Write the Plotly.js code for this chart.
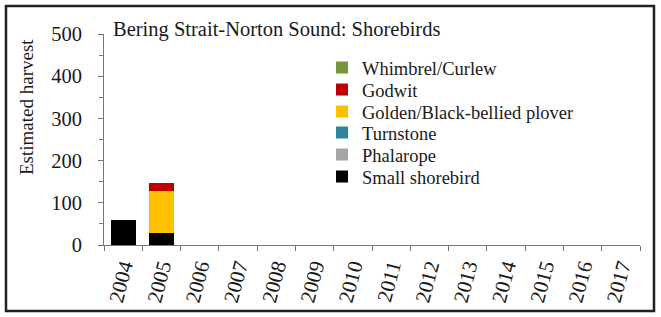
<!DOCTYPE html>
<html><head><meta charset="utf-8">
<script src="https://cdn.plot.ly/plotly-3.0.1.min.js"></script>
<style>body{margin:0;padding:0;background:#fff}#chart{width:661px;height:317px}</style>
</head><body><div id="chart"></div>
<script>
const years = ['2004','2005','2006','2007','2008','2009','2010','2011','2012','2013','2014','2015','2016','2017'];
const smallShorebird = [60, 28, 0,0,0,0,0,0,0,0,0,0,0,0];
const phalarope      = [0, 0, 0,0,0,0,0,0,0,0,0,0,0,0];
const turnstone      = [0, 0, 0,0,0,0,0,0,0,0,0,0,0,0];
const plover         = [0, 100, 0,0,0,0,0,0,0,0,0,0,0,0];
const godwit         = [0, 20, 0,0,0,0,0,0,0,0,0,0,0,0];
const whimbrel       = [0, 0, 0,0,0,0,0,0,0,0,0,0,0,0];
const seriesNames = ['Small shorebird','Phalarope','Turnstone','Golden/Black-bellied plover','Godwit','Whimbrel/Curlew'];
const seriesValues = [smallShorebird, phalarope, turnstone, plover, godwit, whimbrel];
const seriesColors = ['#000000','#A5A5A5','#31849B','#FFC000','#C00000','#77933C'];

const font = 'Liberation Serif, Times New Roman, serif';
const L=104, R=21, T=34, B=72, W=661, H=317;
const pw=W-L-R, ph=H-T-B;

const traces = seriesNames.map((n,i)=>({
  type:'bar', name:n, x:years, y:seriesValues[i],
  marker:{color:seriesColors[i], line:{width:0}},
  legend: i===0 ? 'legend' : 'legend'+(i+1)
}));

// legend entries: top item (Whimbrel) at y=68, spacing 22px
const legendCenters = [177,155,133,112,90,68];

const layout = {
  width:W, height:H, barmode:'stack', bargap:0.34,
  margin:{l:L,r:R,t:T,b:B,pad:0},
  paper_bgcolor:'#fff', plot_bgcolor:'#fff',
  font:{family:font, color:'#1a1a1a', size:20},
  title:{text:'Bering Strait-Norton Sound: Shorebirds', xref:'container', x:113/W, xanchor:'left', yref:'container', y:1-22/H, yanchor:'top', font:{family:font,size:20.5,color:'#1a1a1a'}},
  xaxis:{type:'category', showgrid:false, showline:true, linecolor:'#777', linewidth:1,
    ticks:'outside', ticklen:5, tickcolor:'#777', tickson:'boundaries', tickangle:-75,
    tickfont:{family:font,size:21,color:'#1a1a1a'}, zeroline:false},
  yaxis:{range:[0,500], tickvals:[0,100,200,300,400,500], showgrid:false, showline:true,
    linecolor:'#777', linewidth:1, ticks:'outside', ticklen:5, tickcolor:'#777', zeroline:false,
    ticklabelstandoff:12,
    minor:{dtick:50, ticks:'outside', ticklen:4, tickcolor:'#777'},
    tickfont:{family:font,size:20.5,color:'#1a1a1a'}},
  annotations:[{text:'Estimated harvest', xref:'paper', yref:'paper', x:-(L-26)/pw, y:1-(107-T)/ph,
    xanchor:'center', yanchor:'middle', textangle:-90, showarrow:false,
    font:{family:font,size:19,color:'#1a1a1a'}}],
  showlegend:true,
  shapes:[{type:'rect', xref:'paper', yref:'paper',
    x0:-(L-6)/pw, x1:1+(R-7)/pw, y0:-(B-6)/ph, y1:1+(T-6)/ph,
    line:{color:'#222', width:2.5}}]
};
seriesNames.forEach((n,i)=>{
  const key = i===0 ? 'legend' : 'legend'+(i+1);
  layout[key] = {x:(322-L)/pw, y:1-(legendCenters[i]-T)/ph, xanchor:'left', yanchor:'middle',
    bgcolor:'rgba(0,0,0,0)', font:{family:font,size:18.5,color:'#1a1a1a'}, itemwidth:30};
});
Plotly.newPlot('chart', traces, layout, {staticPlot:true, displayModeBar:false});
</script></body></html>
